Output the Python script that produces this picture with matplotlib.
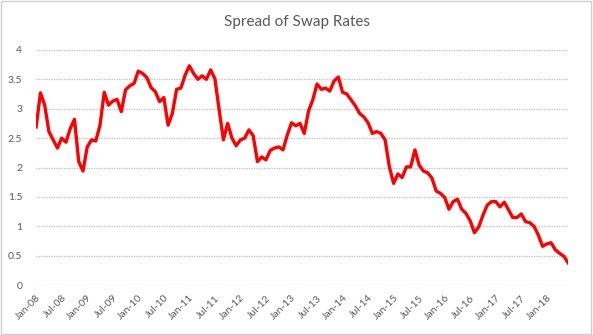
import matplotlib
matplotlib.use("Agg")
import matplotlib.pyplot as plt
from matplotlib.patches import Rectangle

plt.rcParams['font.family'] = ['Lato', 'DejaVu Sans']

# monthly spread, Jan-08 .. Jun-18
spread = [
    2.69, 3.27, 3.06, 2.61, 2.47, 2.33, 2.50, 2.43, 2.66, 2.82, 2.10, 1.94,
    2.35, 2.47, 2.45, 2.72, 3.28, 3.06, 3.13, 3.16, 2.95, 3.32, 3.39, 3.43,
    3.64, 3.60, 3.53, 3.36, 3.29, 3.12, 3.19, 2.72, 2.92, 3.33, 3.35, 3.57,
    3.73, 3.60, 3.50, 3.56, 3.50, 3.66, 3.51, 2.98, 2.47, 2.75, 2.50, 2.37,
    2.47, 2.50, 2.64, 2.54, 2.10, 2.18, 2.13, 2.29, 2.33, 2.35, 2.30, 2.55,
    2.76, 2.71, 2.75, 2.58, 2.96, 3.15, 3.42, 3.33, 3.35, 3.30, 3.47, 3.54,
    3.28, 3.25, 3.15, 3.05, 2.92, 2.86, 2.76, 2.58, 2.61, 2.58, 2.47, 2.01,
    1.73, 1.89, 1.83, 2.01, 2.01, 2.30, 2.04, 1.94, 1.91, 1.82, 1.60, 1.56,
    1.49, 1.29, 1.42, 1.46, 1.29, 1.22, 1.09, 0.89, 0.99, 1.19, 1.36, 1.42,
    1.42, 1.33, 1.41, 1.28, 1.15, 1.15, 1.21, 1.08, 1.06, 1.00, 0.85, 0.66,
    0.70, 0.72, 0.60, 0.54, 0.49, 0.38,
]
tick_labels = ['Jan-08', 'Jul-08', 'Jan-09', 'Jul-09', 'Jan-10', 'Jul-10', 'Jan-11',
               'Jul-11', 'Jan-12', 'Jul-12', 'Jan-13', 'Jul-13', 'Jan-14', 'Jul-14',
               'Jan-15', 'Jul-15', 'Jan-16', 'Jul-16', 'Jan-17', 'Jul-17', 'Jan-18']
y_ticks = [0, 0.5, 1, 1.5, 2, 2.5, 3, 3.5, 4]
y_labels = ['0', '0.5', '1', '1.5', '2', '2.5', '3', '3.5', '4']

fig = plt.figure(figsize=(5.93, 3.35), dpi=100)
ax = fig.add_axes([0.061, 0.149, 0.897, 0.702])

ax.plot(range(len(spread)), spread, color='#ff0000', linewidth=2.4, solid_joinstyle='round')

ax.set_xlim(0, len(spread) - 1)
ax.set_ylim(0, 4)
ax.set_yticks(y_ticks)
ax.set_yticklabels(y_labels)
ax.set_xticks(range(0, 6 * len(tick_labels), 6))
ax.set_xticklabels(tick_labels, rotation=45, ha='right', rotation_mode='anchor')
ax.tick_params(axis='both', length=0, colors='#595959', labelsize=7.5)
ax.tick_params(axis='x', pad=6)
ax.tick_params(axis='y', pad=10)

ax.grid(axis='y', color='#bfbfbf', linestyle=(0, (1, 1)), linewidth=0.9)
ax.set_axisbelow(True)
for s in ax.spines.values():
    s.set_visible(False)

fig.text(0.5, 0.935, 'Spread of Swap Rates', ha='center', va='center',
         fontsize=11, color='#595959')

# light chart border
fig.patches.append(Rectangle((0.002, 0.003), 0.995, 0.993, transform=fig.transFigure,
                             fill=False, edgecolor='#d0d0d0', linewidth=1))

fig.savefig('out.png', dpi=100)
